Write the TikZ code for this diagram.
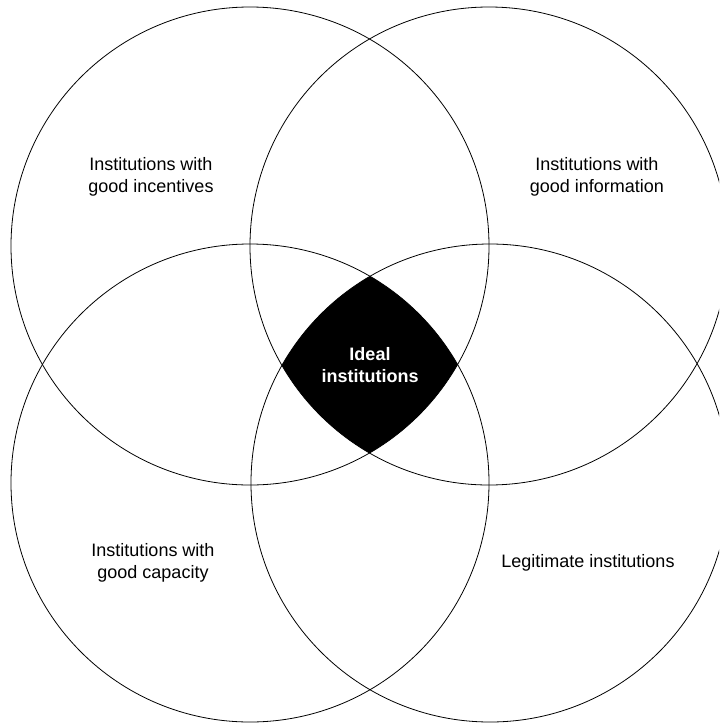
\documentclass[tikz,border=0pt]{standalone}
\usepackage{fontspec}
\setmainfont{Liberation Sans}
\begin{document}
\begin{tikzpicture}[x=0.75pt, y=-0.75pt,
    ring/.style={draw, circle, line width=0.6pt, minimum size=358.5pt, inner sep=0pt},
    lbl/.style={align=center, font=\fontsize{13.5}{17}\selectfont}]
        \path[clip, use as bounding box] (0,0) rectangle (719,726);

        \draw node[ring] (inc) at (250,246) {} node[ring] (info) at (489,246) {}
        node[ring] (cap) at (250,483) {} node[ring] (legit) at (490,483) {};

        % common part of the four circles
        \begin{scope}
        \clip (inc.center) circle[radius=179.25pt];
        \clip (info.center) circle[radius=179.25pt];
        \clip (cap.center) circle[radius=179.25pt];
        \fill (legit.center) circle[radius=179.25pt];
        \end{scope}

        \draw node[lbl] (incl) at (151,177) {Institutions with\\good incentives}
        node[lbl] (infol) at (597,177) {Institutions with\\good information}
        node[lbl] (capl) at (153,563) {Institutions with\\good capacity}
        node[lbl] (legitl) at (588,563) {Legitimate institutions}
        node[lbl, text=white, font=\fontsize{13.5}{17}\selectfont\bfseries] (ideal) at (370,365) {Ideal\\institutions};
\end{tikzpicture}
\end{document}
